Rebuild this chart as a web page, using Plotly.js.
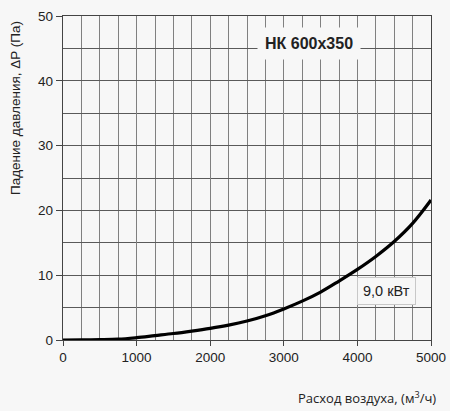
<!DOCTYPE html>
<html><head><meta charset="utf-8">
<script src="https://cdn.plot.ly/plotly-3.0.1.min.js"></script>
<style>html,body{margin:0;padding:0;background:#f7f7f7;}</style>
</head><body>
<div id="chart" style="width:450px;height:411px;"></div>
<script>
const airflow = [0, 250, 500, 750, 1000, 1250, 1500, 1750, 2000, 2250, 2500, 2750, 3000, 3250, 3500, 3750, 4000, 4250, 4500, 4750, 5000];
const pressure = [0, 0.02, 0.05, 0.12, 0.36, 0.68, 1.0, 1.38, 1.8, 2.3, 2.93, 3.75, 4.8, 6.0, 7.4, 9.1, 10.9, 12.9, 15.2, 18.0, 21.6];
const modelLabel = "НК 600x350";
const powerLabel = "9,0 кВт";
const xTitle = "Расход воздуха, (м<sup>3</sup>/ч)";
const yTitle = "Падение давления, ΔP (Па)";

const FONT = "'Liberation Sans', Arial, sans-serif";
const trace = {
  x: airflow, y: pressure, type: 'scatter', mode: 'lines',
  line: {color: '#000', width: 3.2, shape: 'spline', smoothing: 1},
  hoverinfo: 'skip'
};
const pw = 450 - 63 - 19, ph = 411 - 16 - 71;
const layout = {
  width: 450, height: 411,
  margin: {l: 63, r: 19, t: 16, b: 71},
  paper_bgcolor: '#f7f7f7', plot_bgcolor: '#f7f7f7',
  showlegend: false,
  font: {family: FONT, size: 13, color: '#222'},
  xaxis: {
    range: [0, 5000], dtick: 1000, tick0: 0, showgrid: true, gridcolor: '#808080', gridwidth: 1,
    minor: {dtick: 250, showgrid: true, gridcolor: '#808080', gridwidth: 1},
    ticks: 'outside', ticklen: 5, tickcolor: '#444', showline: true, linecolor: '#444', linewidth: 1.2, mirror: true,
    zeroline: false, tickfont: {size: 13.5, color: '#222', family: FONT}
  },
  yaxis: {
    range: [0, 50], dtick: 10, showgrid: true, gridcolor: '#5a5a5a', gridwidth: 1,
    minor: {dtick: 5, showgrid: true, gridcolor: '#5a5a5a', gridwidth: 1},
    ticks: 'outside', ticklen: 6, tickcolor: '#444', showline: true, linecolor: '#444', linewidth: 1.2, mirror: true,
    zeroline: false, tickfont: {size: 13.5, color: '#222', family: FONT}
  },
  annotations: [
    {x: 3340, y: 45.8, xref: 'x', yref: 'y', text: '<b>' + modelLabel + '</b>', showarrow: false,
     font: {size: 16, color: '#222', family: FONT}, bgcolor: '#f7f7f7', borderpad: 7},
    {x: 4395, y: 7.55, xref: 'x', yref: 'y', text: powerLabel, showarrow: false,
     font: {size: 14.5, color: '#222', family: FONT}, bgcolor: '#f7f7f7',
     bordercolor: '#c8c8c8', borderwidth: 1, borderpad: 5},
    {x: (438 - 63) / pw, y: (340 - 397) / ph, xref: 'paper', yref: 'paper', text: xTitle, showarrow: false,
     xanchor: 'right', yanchor: 'middle',
     font: {size: 13, color: '#222', family: "'Open Sans', 'Noto Sans', sans-serif"}},
    {x: (15 - 63) / pw, y: (340 - 108) / ph, xref: 'paper', yref: 'paper', text: yTitle, showarrow: false,
     textangle: -90, xanchor: 'center', yanchor: 'middle',
     font: {size: 13.5, color: '#222', family: FONT}}
  ]
};
Plotly.newPlot('chart', [trace], layout, {staticPlot: true});
</script>
</body></html>
